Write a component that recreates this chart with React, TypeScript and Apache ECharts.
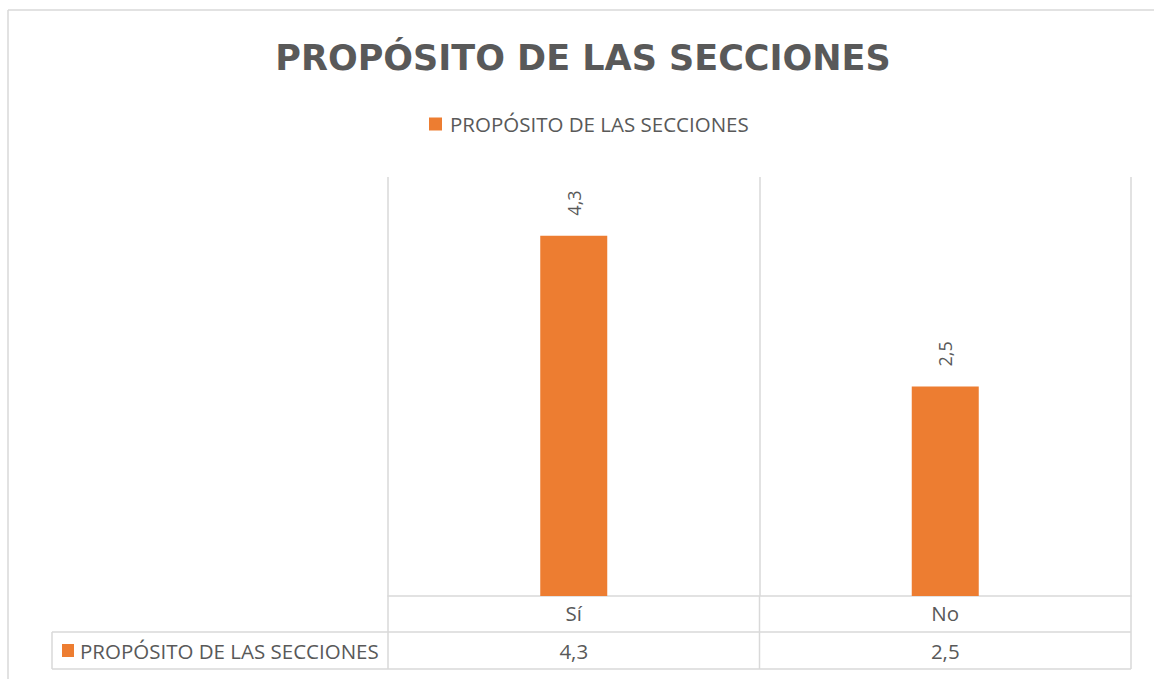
import React, { useEffect, useRef } from "react";
import * as echarts from "echarts";

const titleText = "PROPÓSITO DE LAS SECCIONES";
const seriesName = "PROPÓSITO DE LAS SECCIONES";
const categories = ["Sí", "No"];
const values = [4.3, 2.5];

const fmt = (v: number) => String(v).replace(".", ",");

const W = 1154;
const H = 679;
const GRID_LEFT = 388;
const GRID_RIGHT_X = 1131;
const GRID_TOP = 177;
const AXIS_Y = 596;
const ROW1_Y = 632;
const ROW2_Y = 669;
const TABLE_LEFT = 52;
const LINE = "#d9d9d9";
const TEXT = "#595959";
const ORANGE = "#ED7D31";
const FONT = "'Open Sans', sans-serif";

export default function App() {
  const ref = useRef<HTMLDivElement>(null);
  useEffect(() => {
    if (!ref.current) return;
    const chart = echarts.init(ref.current, undefined, { renderer: "svg" });
    const n = categories.length;
    const band = (GRID_RIGHT_X - GRID_LEFT) / n;
    const graphics: any[] = [];
    const hline = (x1: number, x2: number, y: number) =>
      graphics.push({ type: "line", shape: { x1, y1: y, x2, y2: y }, style: { stroke: LINE, lineWidth: 1.5 }, silent: true });
    const vline = (x: number, y1: number, y2: number) =>
      graphics.push({ type: "line", shape: { x1: x, y1, x2: x, y2 }, style: { stroke: LINE, lineWidth: 1.5 }, silent: true });
    // outer chart border
    hline(8, W, 10);
    vline(8, 10, H);
    // data table
    hline(TABLE_LEFT, GRID_RIGHT_X, ROW1_Y);
    hline(TABLE_LEFT, GRID_RIGHT_X, ROW2_Y);
    vline(TABLE_LEFT, ROW1_Y, ROW2_Y);
    for (let i = 0; i <= n; i++) vline(GRID_LEFT + band * i, AXIS_Y, ROW2_Y);
    graphics.push({
      type: "rect",
      shape: { x: 62, y: 644, width: 12, height: 13 },
      style: { fill: ORANGE },
    });
    graphics.push({
      type: "text",
      x: 80,
      y: (ROW1_Y + ROW2_Y) / 2,
      style: { text: seriesName, fill: TEXT, font: `20.5px ${FONT}`, verticalAlign: "middle", align: "left" },
    });
    values.forEach((v, i) => {
      graphics.push({
        type: "text",
        x: GRID_LEFT + band * (i + 0.5),
        y: (ROW1_Y + ROW2_Y) / 2,
        style: { text: fmt(v), fill: TEXT, font: `20.5px ${FONT}`, verticalAlign: "middle", align: "center" },
      });
    });

    chart.setOption({
      animation: false,
      backgroundColor: "#ffffff",
      title: {
        text: titleText,
        left: 583,
        textAlign: "center",
        top: 40,
        padding: 0,
        textStyle: { fontFamily: "'DejaVu Sans', sans-serif", fontWeight: "bold", fontSize: 35, color: TEXT },
      },
      legend: {
        left: 429,
        top: 113.5,
        padding: 0,
        icon: "rect",
        itemWidth: 13,
        itemHeight: 13,
        itemGap: 8,
        textStyle: { fontFamily: FONT, fontSize: 20.5, color: TEXT, padding: [0, 0, 0, 3] },
        data: [seriesName],
      },
      grid: { left: GRID_LEFT, right: W - GRID_RIGHT_X, top: GRID_TOP, bottom: H - AXIS_Y },
      xAxis: {
        type: "category",
        data: categories,
        axisLine: { show: true, lineStyle: { color: LINE, width: 1.5 } },
        axisTick: { show: false },
        splitLine: { show: true, lineStyle: { color: LINE, width: 1.5 } },
        axisLabel: { color: TEXT, fontFamily: FONT, fontSize: 20.5, margin: 6 },
      },
      yAxis: { type: "value", min: 0, max: 5, show: false, splitLine: { show: false } },
      series: [
        {
          name: seriesName,
          type: "bar",
          data: values,
          barWidth: 67,
          itemStyle: { color: ORANGE },
          label: {
            show: true,
            position: "top",
            rotate: 90,
            align: "left",
            verticalAlign: "middle",
            distance: 20,
            formatter: (p: any) => fmt(p.value),
            color: TEXT,
            fontFamily: FONT,
            fontSize: 18,
          },
        },
      ],
      graphic: graphics,
    });
    return () => chart.dispose();
  }, []);
  return <div ref={ref} style={{ position: "fixed", left: 0, top: 0, width: W, height: H }} />;
}
